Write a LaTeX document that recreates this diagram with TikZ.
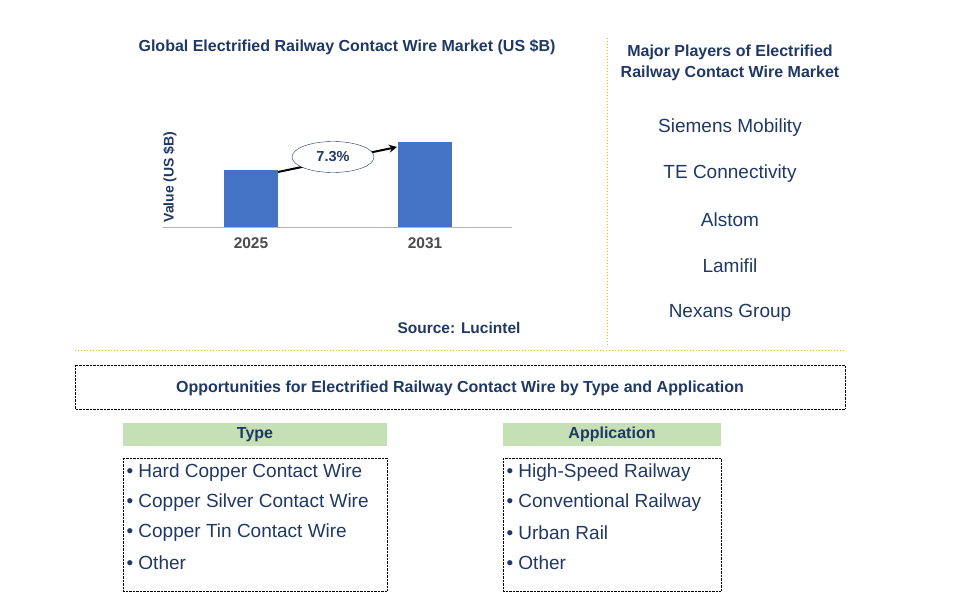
\documentclass[tikz,border=0pt]{standalone}
\usepackage{fontspec}
\setmainfont{Liberation Sans}
\usetikzlibrary{shapes.geometric,arrows.meta}
\definecolor{navy}{HTML}{1F3864}
\definecolor{barblue}{HTML}{4472C4}
\definecolor{gold}{HTML}{EDB800}
\definecolor{hdrgreen}{HTML}{C5E0B4}
\definecolor{txt}{HTML}{203864}
\tikzset{x=1pt,y=-1pt,
 ttl/.style={font=\bfseries\fontsize{16}{21}\selectfont,text=navy,align=center},
 player/.style={font=\fontsize{19}{22}\selectfont,text=navy},
 bar/.style={fill=barblue,draw=none},
 dotbox/.style={draw=black,densely dotted},
 hdr/.style={fill=hdrgreen,draw=none,font=\bfseries\fontsize{16}{19}\selectfont,text=navy},
 item/.style={font=\fontsize{19}{22}\selectfont,text=txt,anchor=west},
 sep/.style={draw=gold,dotted,line width=1pt}}
\begin{document}
\begin{tikzpicture}
\useasboundingbox (0,0) rectangle (974,612);
\node[ttl] (title) at (347,47) {Global Electrified Railway Contact Wire Market (US \$B)};
\draw[sep] (607,38) -- (607,346);
\draw[sep] (75,350) -- (845,350);
\draw[gray!60] (163,227) -- (512,227);
\fill[bar] (224,170) rectangle (278,227);
\fill[bar] (398,142) rectangle (452,227);
\coordinate (a1) at (278,172);
\coordinate (a2) at (397,147);
\draw[line width=2pt,-{Stealth[length=8pt,width=8pt]}] (a1) -- (a2);
\node[ellipse,draw=navy,fill=white,minimum width=82,minimum height=31,inner sep=0,font=\bfseries\fontsize{14.5}{16}\selectfont,text=navy] (cagr) at (333,157) {7.3\%};
\node[rotate=90,font=\bfseries\fontsize{14}{16}\selectfont,text=navy] (ylab) at (170,177) {Value (US \$B)};
\node[font=\bfseries\fontsize{15.5}{18}\selectfont,text=black!70] (y1) at (251,243) {2025};
\node[font=\bfseries\fontsize{15.5}{18}\selectfont,text=black!70] (y2) at (425,243) {2031};
\node[ttl,font=\bfseries\fontsize{15.5}{18}\selectfont] (src) at (459,328) {Source: Lucintel};
\node[ttl] (mp) at (730,63) {Major Players of Electrified\\Railway Contact Wire Market};
\node[player] (p1) at (730,128) {Siemens Mobility};
\node[player] (p2) at (730,174) {TE Connectivity};
\node[player] (p3) at (730,220) {Alstom};
\node[player] (p4) at (730,266) {Lamifil};
\node[player] (p5) at (730,313) {Nexans Group};
\draw[dotbox] (75,365) rectangle (845,409);
\node[ttl] (opp) at (460,388) {Opportunities for Electrified Railway Contact Wire by Type and Application};
\node[hdr,minimum width=264,minimum height=23] (th) at (255,434.5) {Type};
\node[hdr,minimum width=218,minimum height=23] (ah) at (612,434.5) {Application};
\draw[dotbox] (123,458) rectangle (387,591);
\draw[dotbox] (503,458) rectangle (721,591);
\node[item] (t1) at (123,473) {• Hard Copper Contact Wire};
\node[item] (t2) at (123,503) {• Copper Silver Contact Wire};
\node[item] (t3) at (123,533) {• Copper Tin Contact Wire};
\node[item] (t4) at (123,563) {• Other};
\node[item] (s1) at (503,473) {• High-Speed Railway};
\node[item] (s2) at (503,503) {• Conventional Railway};
\node[item] (s3) at (503,533) {• Urban Rail};
\node[item] (s4) at (503,563) {• Other};
\end{tikzpicture}
\end{document}
